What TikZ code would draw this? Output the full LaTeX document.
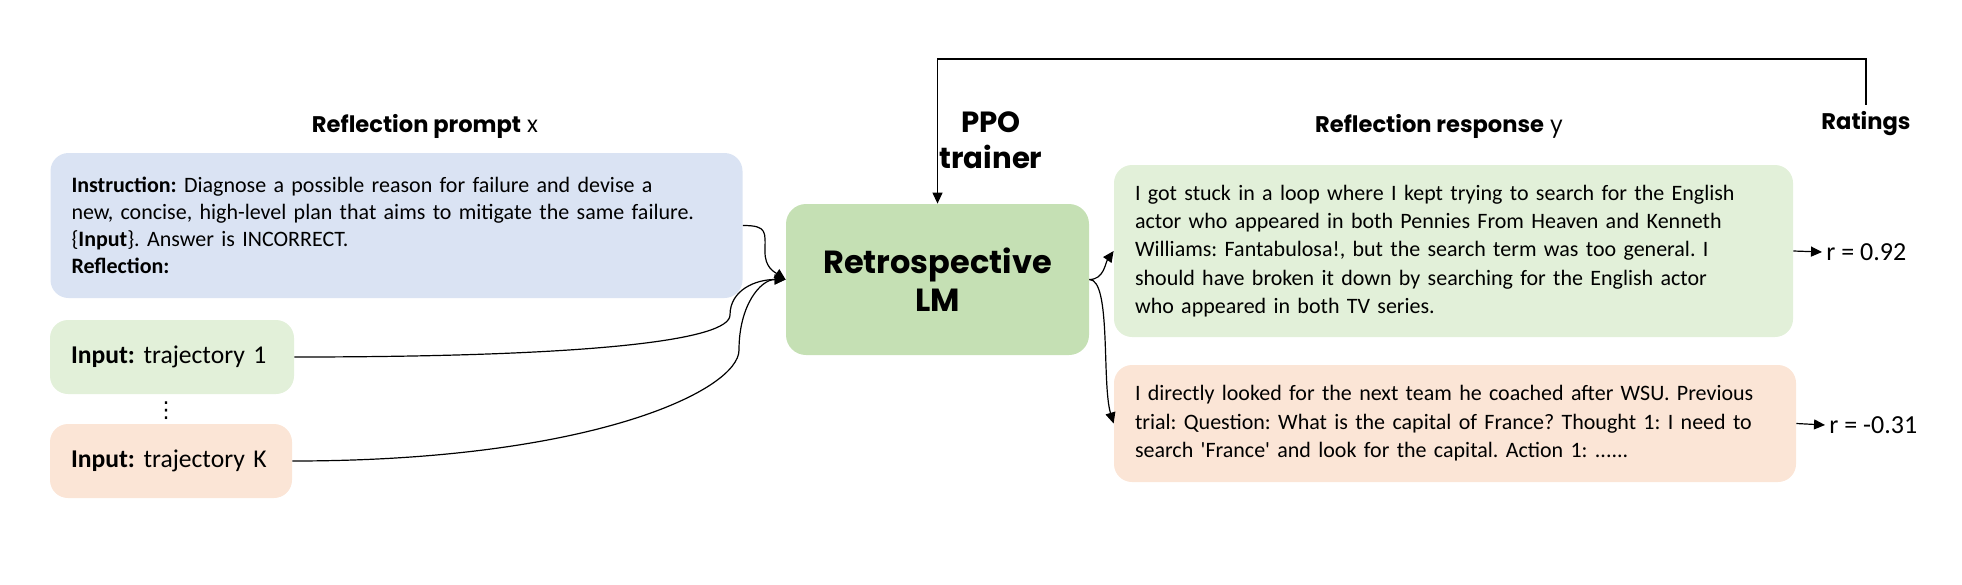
\documentclass[tikz,border=0pt]{standalone}
\usepackage{fontspec}
\setmainfont{Carlito}
\newfontfamily\gothic{Poppins}
\newfontfamily\symb{DejaVu Sans}
\usetikzlibrary{arrows.meta}

\definecolor{promptblue}{HTML}{DAE3F3}
\definecolor{respgreen}{HTML}{E2F0D9}
\definecolor{lmgreen}{HTML}{C5E0B4}
\definecolor{peach}{HTML}{FBE5D6}

\tikzset{
  box/.style={rounded corners=9pt,inner xsep=10.5pt,inner ysep=0pt,align=left,
    font=\fontsize{11}{13.6}\selectfont},
  head/.style={font=\gothic\fontsize{11.3}{17}\selectfont,align=center},
  rate/.style={font=\fontsize{13}{15}\selectfont,inner xsep=2pt},
  conn/.style={line width=0.6pt,-{Triangle[length=5.5pt,width=5pt]}}
}

\begin{document}
\frenchspacing
\begin{tikzpicture}[x=0.5pt,y=-0.5pt]
\useasboundingbox (0,0) rectangle (1962,584);

% left side: prompt and trajectories
\node[head] (xlabel) at (425,126) {\textbf{Reflection prompt} x};
\node[box,fill=promptblue,text width=325pt,minimum height=72.5pt]
    (prompt) at (396.5,225.5) {\textbf{Instruction:} Diagnose a possible reason for failure and devise a\\
    new, concise, high-level plan that aims to mitigate the same failure.\\
    \{\textbf{Input}\}. Answer is INCORRECT.\\
    \textbf{Reflection:}};
\node[box,fill=respgreen,text width=101pt,minimum height=37pt,font=\fontsize{12.8}{15}\selectfont]
    (traj1) at (172,357) {\textbf{Input:} trajectory 1};
\node[font=\symb\fontsize{11}{11}\selectfont] (dots) at (166,411) {⋮};
\node[box,fill=peach,text width=100pt,minimum height=37pt,font=\fontsize{12.8}{15}\selectfont]
    (trajk) at (171,461) {\textbf{Input:} trajectory K};

% model
\node[rounded corners=10pt,fill=lmgreen,minimum width=151.5pt,minimum height=75.5pt,
    align=center,font=\gothic\bfseries\fontsize{16}{19}\selectfont]
    (lm) at (937.5,279.5) {Retrospective\\LM};
\node[head,font=\gothic\bfseries\fontsize{14.6}{18}\selectfont] (ppo) at (991,140) {PPO\\trainer};

% right side: responses and ratings
\node[head] (ylabel) at (1439,126) {\textbf{Reflection response} y};
\node[head] (ratings) at (1866,124) {\textbf{Ratings}};
\node[box,fill=respgreen,text width=318.5pt,minimum height=86pt,
    font=\fontsize{11}{14.2}\selectfont]
    (good) at (1453.5,251) {I got stuck in a loop where I kept trying to search for the English\\
    actor who appeared in both Pennies From Heaven and Kenneth\\
    Williams: Fantabulosa!, but the search term was too general. I\\
    should have broken it down by searching for the English actor\\
    who appeared in both TV series.};
\node[box,fill=peach,text width=320pt,minimum height=58.5pt,
    font=\fontsize{11}{14.2}\selectfont]
    (bad) at (1455,423.5) {I directly looked for the next team he coached after WSU. Previous\\
    trial: Question: What is the capital of France? Thought 1: I need to\\
    search \textquotesingle France\textquotesingle\ and look for the capital. Action 1: ......};
\node[rate,anchor=west] (r1) at (1822,252) {r = 0.92};
\node[rate,anchor=west] (r2) at (1825,425) {r = -0.31};

% connectors
\draw[conn] (prompt.east) .. controls +(25,0) and +(0,-20) .. (765,252)
    .. controls +(0,15) and +(-12,-8) .. (lm.west);
\draw[conn] (traj1.east) .. controls +(300,0) and +(0,25) .. (730,315)
    .. controls +(0,-25) and +(-30,0) .. (lm.west);
\draw[conn] (trajk.east) .. controls +(300,0) and +(0,40) .. (739,350)
    .. controls +(0,-45) and +(-25,0) .. (lm.west);
\draw[conn] (lm.east) to[out=0,in=235] (good.west);
\draw[conn] (lm.east) .. controls +(22,0) and +(-12,-40) .. (bad.west);
\draw[conn] (good.east) -- (r1.west);
\draw[conn] (bad.east) -- (r2.west);
\coordinate (fb) at (1869,59);
\draw[conn] (ratings.north) -- (ratings.north |- fb) -| (lm.north);
\end{tikzpicture}
\end{document}
